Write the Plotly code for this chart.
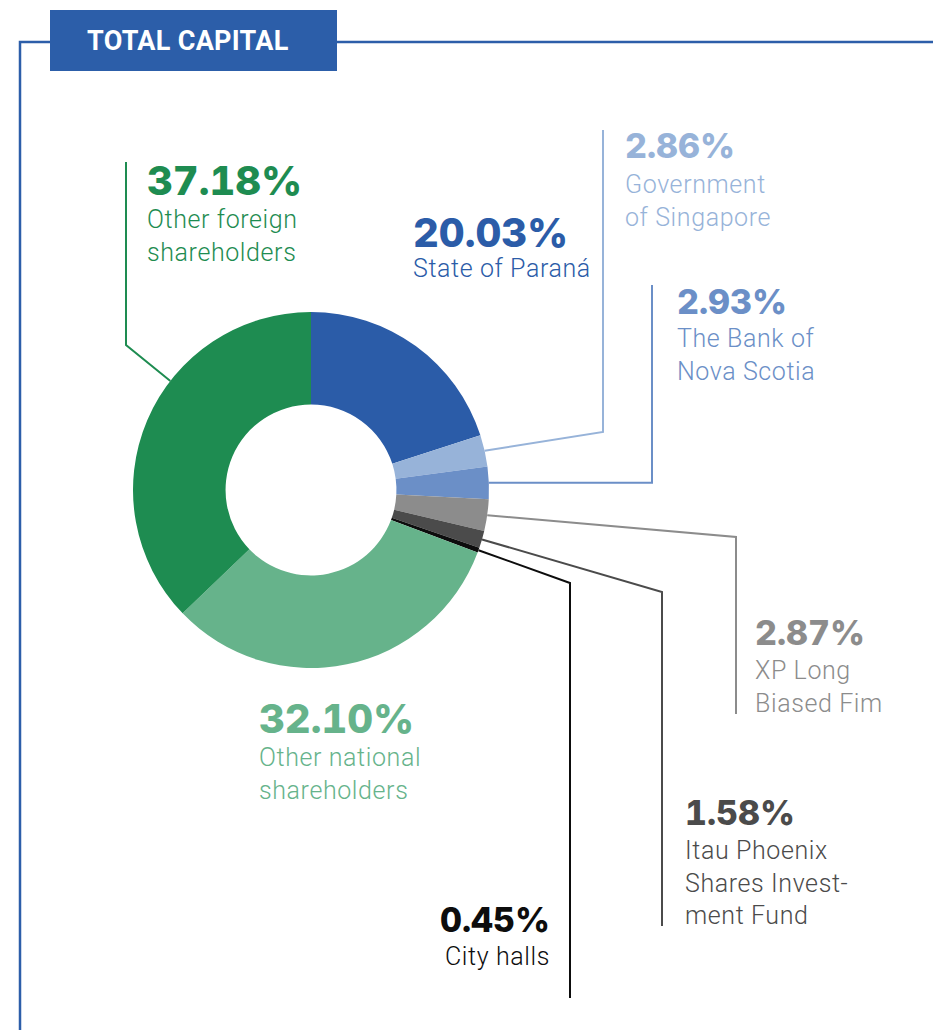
import math
import plotly.graph_objects as go

# ---- data ----
labels = ["State of Paraná", "Government of Singapore", "The Bank of Nova Scotia",
          "XP Long Biased Fim", "Itau Phoenix Shares Investment Fund", "City halls",
          "Other national shareholders", "Other foreign shareholders"]
values = [20.03, 2.86, 2.93, 2.87, 1.58, 0.45, 32.10, 37.18]
pct_text = ["20.03%", "2.86%", "2.93%", "2.87%", "1.58%", "0.45%", "32.10%", "37.18%"]
label_lines = ["State of Paraná", "Government<br>of Singapore", "The Bank of<br>Nova Scotia",
               "XP Long<br>Biased Fim", "Itau Phoenix<br>Shares Invest-<br>ment Fund", "City halls",
               "Other national<br>shareholders", "Other foreign<br>shareholders"]
colors = ["#2b5ca8", "#97b3d9", "#6b8fc7", "#8c8c8c", "#4b4b4b", "#0d0d0d", "#66b38b", "#1e8c51"]
title_text = "TOTAL CAPITAL"

W, H = 933, 1030
CX, CY, R = 311, 490, 178
HOLE = 0.48
FONT = "Roboto"
PFONT = "Inter"


def px(x, y):
    return x / W, 1 - y / H


fig = go.Figure()
fig.add_trace(go.Pie(
    labels=labels, values=values, sort=False, direction="clockwise", rotation=0,
    hole=HOLE, textinfo="none", hoverinfo="label+percent",
    marker=dict(colors=colors, line=dict(width=0)),
    domain=dict(x=[(CX - R) / W, (CX + R) / W], y=[1 - (CY + R) / H, 1 - (CY - R) / H]),
    showlegend=False,
))

# anchor points on outer edge, derived from data
total = sum(values)
cum = [sum(values[:i]) for i in range(len(values))]


def anchor(i, frac=0.5):
    f = (cum[i] + frac * values[i]) / total
    a = 2 * math.pi * f
    return CX + R * math.sin(a), CY - R * math.cos(a)


# leader layout: (slice index, fraction within slice, bend point, end point)
leaders = [
    (1, 0.5, (603, None), (603, 130)),
    (2, 0.5, (652, "same"), (652, 285)),
    (3, 0.5, (736, 537), (736, 714)),
    (4, 0.5, (662, 592), (662, 926)),
    (5, 0.5, (570, 583), (570, 998)),
    (7, 0.61, (126, 345), (126, 162)),
]
bend_y = {1: 432}
shapes = []
for i, frac, bend, end in leaders:
    ax, ay = anchor(i, frac)
    bx = bend[0]
    if bend[1] is None:
        by = bend_y[i]
    elif bend[1] == "same":
        by = ay
    else:
        by = bend[1]
    p0, p1, p2 = px(ax, ay), px(bx, by), px(*end)
    shapes.append(dict(
        type="path", xref="paper", yref="paper",
        path=f"M {p0[0]},{p0[1]} L {p1[0]},{p1[1]} L {p2[0]},{p2[1]}",
        line=dict(color=colors[i], width=2),
    ))

# frame lines and header box
blue = "#2c5ea9"
x0, y0 = px(20, 42)
shapes.append(dict(type="path", xref="paper", yref="paper",
                   path=f"M {x0},0 L {x0},{y0} L {px(50, 42)[0]},{y0}",
                   line=dict(color=blue, width=2.5)))
shapes.append(dict(type="line", xref="paper", yref="paper",
                   x0=px(337, 42)[0], y0=y0, x1=1, y1=y0,
                   line=dict(color=blue, width=2.5)))
bx0, by0 = px(50, 71)
bx1, by1 = px(337, 10)
shapes.append(dict(type="rect", xref="paper", yref="paper",
                   x0=bx0, y0=by0, x1=bx1, y1=by1,
                   fillcolor=blue, line=dict(width=0)))

annotations = []
hx, hy = px(187.5, 40.5)
annotations.append(dict(text="<b><span style='letter-spacing:0.3px'>" + title_text + "</span></b>",
                        x=hx, y=hy, xref="paper", yref="paper",
                        xanchor="center", yanchor="middle", showarrow=False,
                        font=dict(family=FONT, size=27, color="white"),
                        borderpad=0, borderwidth=0))

# text positions: (slice index, x, pct baseline, label first baseline, pct size, anchor)
text_pos = [
    (7, 147, 195, 228, 40, "left"),
    (0, 413, 247, 277, 40, "left"),
    (1, 625, 158, 193, 34, "left"),
    (2, 677, 314, 347, 34, "left"),
    (3, 755, 645, 679, 34, "left"),
    (4, 685, 825, 859, 34, "left"),
    (6, 259, 733, 766, 40, "left"),
    (5, 550, 932, 965, 34, "right"),
]
LS = 25


def spaced(t, ls, extra=""):
    return "<br>".join(f"<span style='letter-spacing:{ls}px;{extra}'>{p}</span>" for p in t.split("<br>"))


for i, x, pb, lb, ps, xa in text_pos:
    xx, yy = px(x, pb - 0.97 * ps)
    annotations.append(dict(text=spaced(pct_text[i], 0, "font-variant-numeric:tabular-nums"),
                            x=xx, y=yy, xref="paper", yref="paper",
                            xanchor=xa, yanchor="top", showarrow=False, align=xa,
                            font=dict(family=PFONT, size=ps, color=colors[i], weight=800),
                            borderpad=0, borderwidth=0))
    xx, yy = px(x, lb - 0.93 * LS)
    annotations.append(dict(text=spaced(label_lines[i], 0.6), x=xx, y=yy, xref="paper", yref="paper",
                            xanchor=xa, yanchor="top", showarrow=False, align=xa,
                            font=dict(family=FONT, size=LS, color=colors[i], weight=300),
                            borderpad=0, borderwidth=0))

fig.update_layout(
    width=W, height=H, margin=dict(l=0, r=0, t=0, b=0),
    paper_bgcolor="white", plot_bgcolor="white",
    shapes=shapes, annotations=annotations, showlegend=False,
)
fig.write_html("out.html")
